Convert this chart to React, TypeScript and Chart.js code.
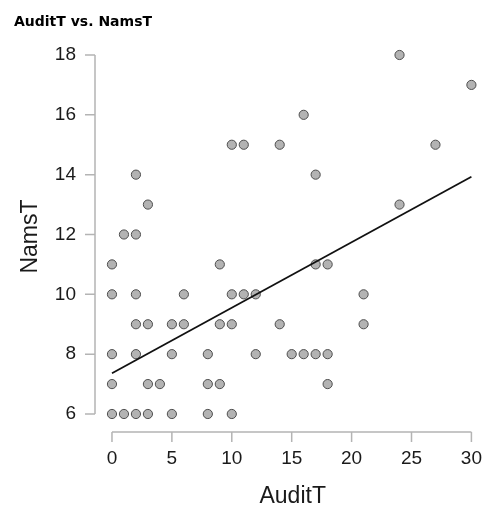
import React, { useEffect, useRef } from "react";
import { Chart, registerables } from "chart.js";

Chart.register(...registerables);

// Observations (paired): AuditT (x) and NamsT (y)
const auditT = [
  0, 1, 2, 3, 5, 8, 10,
  0, 3, 4, 8, 9, 18,
  0, 2, 5, 8, 12, 15, 16, 17, 18,
  2, 3, 5, 6, 9, 10, 14, 21,
  0, 2, 6, 10, 11, 12, 21,
  0, 9, 17, 18,
  1, 2,
  3, 24,
  2, 17,
  10, 11, 14, 27,
  16,
  30,
  24,
];
const namsT = [
  6, 6, 6, 6, 6, 6, 6,
  7, 7, 7, 7, 7, 7,
  8, 8, 8, 8, 8, 8, 8, 8, 8,
  9, 9, 9, 9, 9, 9, 9, 9,
  10, 10, 10, 10, 10, 10, 10,
  11, 11, 11, 11,
  12, 12,
  13, 13,
  14, 14,
  15, 15, 15, 15,
  16,
  17,
  18,
];

// Regression line end points
const fitX = [0, 30];
const fitY = [7.36, 13.93];

const xTicks = [0, 5, 10, 15, 20, 25, 30];
const yTicks = [6, 8, 10, 12, 14, 16, 18];

const titleText = "AuditT vs. NamsT";
const xTitle = "AuditT";
const yTitle = "NamsT";

const FONT = "'Liberation Sans', Arial, sans-serif";

export default function App() {
  const ref = useRef<HTMLCanvasElement | null>(null);

  useEffect(() => {
    if (!ref.current) return;

    const axesPlugin = {
      id: "jaspAxes",
      beforeDatasetsDraw(chart: any) {
        const { ctx, chartArea } = chart;
        const xs = chart.scales.x;
        const ys = chart.scales.y;
        ctx.save();
        ctx.strokeStyle = "#b4b4b4";
        ctx.lineWidth = 1.5;
        // y axis
        const yTop = ys.getPixelForValue(yTicks[yTicks.length - 1]);
        const yBot = ys.getPixelForValue(yTicks[0]);
        const ax = chartArea.left;
        ctx.beginPath();
        ctx.moveTo(ax, yTop);
        ctx.lineTo(ax, yBot);
        for (const t of yTicks) {
          const p = ys.getPixelForValue(t);
          ctx.moveTo(ax - 10, p);
          ctx.lineTo(ax, p);
        }
        ctx.stroke();
        // x axis
        const xL = xs.getPixelForValue(xTicks[0]);
        const xR = xs.getPixelForValue(xTicks[xTicks.length - 1]);
        const ay = chartArea.bottom;
        ctx.beginPath();
        ctx.moveTo(xL, ay);
        ctx.lineTo(xR, ay);
        for (const t of xTicks) {
          const p = xs.getPixelForValue(t);
          ctx.moveTo(p, ay);
          ctx.lineTo(p, ay + 10);
        }
        ctx.stroke();
        ctx.restore();
      },
      afterDraw(chart: any) {
        const { ctx } = chart;
        const xs = chart.scales.x;
        const ys = chart.scales.y;
        ctx.save();
        // main title
        ctx.fillStyle = "#000";
        ctx.font = "bold 14px 'DejaVu Sans', Verdana, sans-serif";
        ctx.textAlign = "left";
        ctx.textBaseline = "alphabetic";
        ctx.fillText(titleText, 14, 26);
        // x title
        ctx.fillStyle = "#1a1a1a";
        ctx.font = `23px ${FONT}`;
        ctx.textAlign = "center";
        const xc = (xs.getPixelForValue(xTicks[0]) + xs.getPixelForValue(xTicks[xTicks.length - 1])) / 2;
        ctx.fillText(xTitle, xc + 1, 503);
        // y title
        const yc = (ys.getPixelForValue(yTicks[0]) + ys.getPixelForValue(yTicks[yTicks.length - 1])) / 2;
        ctx.translate(37, yc + 2);
        ctx.rotate(-Math.PI / 2);
        ctx.fillText(yTitle, 0, 0);
        ctx.restore();
      },
    };

    const points = auditT.map((x, i) => ({ x, y: namsT[i] }));
    const fit = fitX.map((x, i) => ({ x, y: fitY[i] }));

    const chart = new Chart(ref.current, {
      type: "scatter",
      data: {
        datasets: [
          {
            label: "fit",
            data: fit,
            showLine: true,
            borderColor: "#111",
            borderWidth: 1.8,
            pointRadius: 0,
            fill: false,
          } as any,
          {
            label: "obs",
            data: points,
            pointRadius: 4.6,
            pointBackgroundColor: "#b3b3b3",
            pointBorderColor: "#4d4d4d",
            pointBorderWidth: 1,
          } as any,
        ],
      },
      options: {
        responsive: false,
        animation: false,
        layout: { padding: { top: 45, right: 5, bottom: 0, left: 0 } },
        plugins: {
          legend: { display: false },
          title: { display: false },
          tooltip: { enabled: false },
        },
        scales: {
          x: {
            type: "linear",
            min: -1.417,
            max: 30.667,
            grid: { display: false, drawTicks: false },
            border: { display: false },
            afterFit: (s: any) => {
              s.height = 75;
              s.paddingLeft = 0;
              s.paddingRight = 0;
            },
            afterBuildTicks: (s: any) => {
              s.ticks = xTicks.map((v) => ({ value: v }));
            },
            ticks: {
              padding: 15,
              color: "#1a1a1a",
              font: { family: FONT, size: 19 },
              maxRotation: 0,
              autoSkip: false,
            },
          },
          y: {
            type: "linear",
            min: 5.398,
            max: 18.334,
            grid: { display: false, drawTicks: false },
            border: { display: false },
            afterFit: (s: any) => {
              s.width = 95;
              s.paddingTop = 0;
              s.paddingBottom = 0;
            },
            afterBuildTicks: (s: any) => {
              s.ticks = yTicks.map((v) => ({ value: v }));
            },
            ticks: {
              padding: 19,
              color: "#1a1a1a",
              font: { family: FONT, size: 19 },
              autoSkip: false,
            },
          },
        },
      },
      plugins: [axesPlugin],
    });

    return () => chart.destroy();
  }, []);

  return (
    <div style={{ position: "absolute", left: 0, top: 0, width: 485, height: 507, background: "#fff" }}>
      <canvas ref={ref} width={485} height={507} style={{ display: "block" }} />
    </div>
  );
}
